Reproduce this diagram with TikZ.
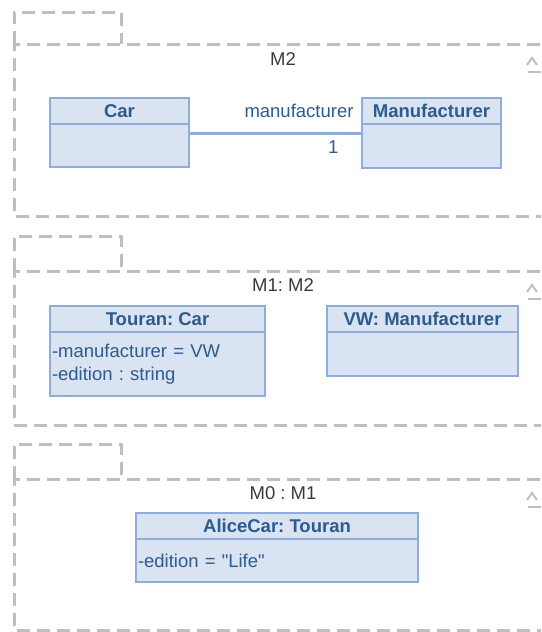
\documentclass[tikz,border=0pt]{standalone}
\usepackage{fontspec}
\setmainfont{Liberation Sans}
\definecolor{UMLFill}{HTML}{DAE3F1}
\definecolor{UMLLine}{HTML}{8EADDA}
\definecolor{UMLText}{HTML}{2B5B8F}
\definecolor{PkgGray}{HTML}{BFBFBF}
\definecolor{PkgText}{HTML}{3A3A3A}
\usetikzlibrary{positioning,calc}
\frenchspacing

\begin{document}
\begin{tikzpicture}[x=1pt, y=-1pt, font=\fontsize{18.5}{22.5}\selectfont,
    pkgline/.style={PkgGray, line width=3pt, dash pattern=on 13pt off 7pt},
    caret/.style={PkgGray, line width=2pt},
    pkglabel/.style={text=PkgText, inner sep=0pt},
    classhead/.style={draw=UMLLine, fill=UMLFill, line width=1.5pt, outer sep=0pt, inner sep=0pt,
      minimum height=26pt, text=UMLText, font=\fontsize{18.5}{22.5}\selectfont\bfseries},
    classbody/.style={draw=UMLLine, fill=UMLFill, line width=1.5pt, outer sep=0pt, inner xsep=2pt,
      inner ysep=0pt, align=left, text=UMLText},
    assoc/.style={UMLLine, line width=3pt},
    assoclabel/.style={text=UMLText, inner sep=0pt}]
  \useasboundingbox (0,0) rectangle (541,632);
  \clip (0,0) rectangle (541,632);

  % packages
  \draw[pkgline] (14,44) -- (14,12) -- (121,12) -- (121,44);
  \draw[pkgline] (560,44) -- (14,44) -- (14,216) -- (560,216);
  \node[pkglabel] (m2) at (283,59) {M2};
  \draw[caret] (527,65) -- (532,58) -- (537,65);
  \draw[caret] (528,72) -- (541,72);

  \draw[pkgline] (14,271) -- (14,236) -- (121,236) -- (121,271);
  \draw[pkgline] (560,271) -- (14,271) -- (14,425) -- (560,425);
  \node[pkglabel] (m1) at (283,285) {M1: M2};
  \draw[caret] (527,292) -- (532,285) -- (537,292);
  \draw[caret] (528,299) -- (541,299);

  \draw[pkgline] (14,479) -- (14,444) -- (121,444) -- (121,479);
  \draw[pkgline] (560,479) -- (14,479) -- (14,630) -- (560,630);
  \node[pkglabel] (m0) at (283,493) {M0 : M1};
  \draw[caret] (527,500) -- (532,493) -- (537,500);
  \draw[caret] (528,507) -- (541,507);

  % M2
  \node[classhead, minimum width=139pt, anchor=north west] (car) at (50,98) {Car};
  \node[classbody, minimum width=139pt, minimum height=43pt, below=0pt of car] (carbody) {};
  \node[classhead, minimum width=139pt, right=173pt of car] (mf) {Manufacturer};
  \node[classbody, minimum width=139pt, minimum height=44pt, below=0pt of mf] (mfbody) {};
  \draw[assoc] ([yshift=-9pt]carbody.north east) -- ([yshift=-9pt]mfbody.north west)
    node[pos=1, anchor=base east, xshift=-7pt, yshift=16pt, assoclabel] (role) {manufacturer}
    node[pos=1, anchor=base east, xshift=-22pt, yshift=-20pt, assoclabel] (mult) {1};

  % M1
  \node[classhead, minimum width=215pt, anchor=north west] (touran) at (50,306) {Touran: Car};
  \node[classbody, text width=211pt, minimum height=64pt, below=0pt of touran] (touranbody)
    {-manufacturer = VW\\-edition : string};
  \node[classhead, minimum width=191pt, right=62pt of touran] (vw) {VW: Manufacturer};
  \node[classbody, minimum width=191pt, minimum height=44pt, below=0pt of vw] (vwbody) {};

  % M0
  \node[classhead, minimum width=282pt, anchor=north west] (alice) at (136,513) {AliceCar: Touran};
  \node[classbody, text width=278pt, minimum height=43pt, below=0pt of alice] (alicebody)
    {-edition = \textquotedbl Life\textquotedbl};
\end{tikzpicture}
\end{document}
